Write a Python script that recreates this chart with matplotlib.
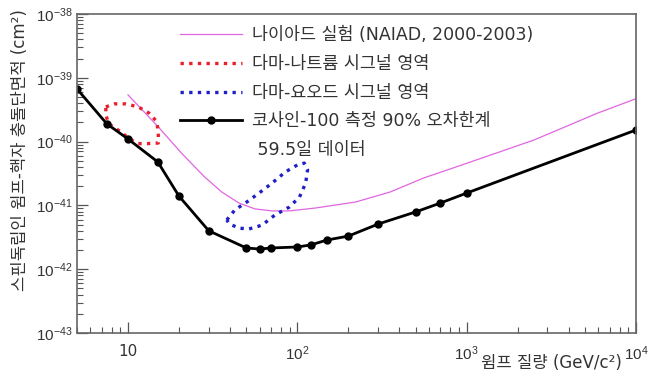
import numpy as np
import matplotlib.pyplot as plt
from matplotlib.ticker import LogLocator, FixedLocator, FuncFormatter, NullFormatter
from matplotlib.lines import Line2D

plt.rcParams['font.family'] = ['DejaVu Sans', 'Noto Sans CJK KR']
plt.rcParams['mathtext.fontset'] = 'custom'
plt.rcParams['mathtext.rm'] = 'Liberation Sans'
plt.rcParams['mathtext.it'] = 'Liberation Sans:italic'

# 코사인-100 90% 상한 (59.5일)
cosine_mass = [5, 7.5, 10, 15, 20, 30, 50, 60, 70, 100, 120, 150, 200, 300, 500, 700, 1000, 10000]
cosine_xs = [6.7e-40, 1.9e-40, 1.1e-40, 4.8e-41, 1.4e-41, 4.0e-42, 2.15e-42, 2.07e-42, 2.15e-42,
             2.23e-42, 2.4e-42, 2.87e-42, 3.3e-42, 5.1e-42, 7.9e-42, 1.09e-41, 1.56e-41, 1.52e-40]

# NAIAD (2000-2003)
naiad_mass = [10, 15.1, 20.7, 28.3, 35.8, 45.2, 56.3, 71, 89.6, 128, 221, 353, 555, 760, 960, 2500, 5940, 10000]
naiad_xs = [5.4e-40, 1.7e-40, 6.6e-41, 2.8e-41, 1.62e-41, 1.09e-41, 8.8e-42, 8.2e-42, 8.2e-42,
            9.1e-42, 1.13e-41, 1.62e-41, 2.68e-41, 3.56e-41, 4.4e-41, 1.06e-40, 2.8e-40, 4.7e-40]

# DAMA 나트륨 영역 윤곽
dama_na_mass = [7.4, 8.3, 9.7, 11.5, 13.3, 14.7, 15.1, 15.1, 13.1, 11.5, 10.4, 8.8, 7.7, 7.4, 7.4]
dama_na_xs = [3.5e-40, 3.9e-40, 3.9e-40, 3.5e-40, 2.8e-40, 2.1e-40, 1.5e-40, 9.5e-41, 9.3e-41,
              9.3e-41, 1.07e-40, 1.5e-40, 1.9e-40, 2.6e-40, 3.5e-40]

# DAMA 요오드 영역 윤곽
dama_i_mass = [38.3, 42.8, 50.3, 59.4, 71.0, 84.9, 100, 110, 115, 112, 103, 89.6, 73.9, 61.9, 51.8, 45.2, 39.9, 38.3]
dama_i_xs = [5.9e-42, 8.5e-42, 1.13e-41, 1.56e-41, 2.24e-41, 3.34e-41, 4.3e-41, 4.6e-41, 3.6e-41,
             2.24e-41, 1.35e-41, 9.4e-42, 7.1e-42, 4.9e-42, 4.27e-42, 4.4e-42, 5.1e-42, 5.9e-42]

fig = plt.figure(figsize=(6.51, 3.73), dpi=100)
ax = fig.add_axes([77 / 651, 1 - 333 / 373, 559 / 651, 319 / 373])

ax.plot(naiad_mass, naiad_xs, color='#e066e0', lw=0.9, label='나이아드 실험 (NAIAD, 2000-2003)')
ax.plot(dama_na_mass, dama_na_xs, color='#e8202a', lw=2.4, linestyle=(0, (1, 1.6)),
        label='다마-나트륨 시그널 영역')
ax.plot(dama_i_mass, dama_i_xs, color='#2020c8', lw=2.4, linestyle=(0, (1, 1.6)),
        label='다마-요오드 시그널 영역')
ax.plot(cosine_mass, cosine_xs, color='black', lw=2, marker='o', ms=5,
        label='코사인-100 측정 90% 오차한계')

ax.set_xscale('log')
ax.set_yscale('log')
ax.set_xlim(5, 1e4)
ax.set_ylim(1e-43, 1e-38)

def xfmt(v, pos):
    e = int(round(np.log10(v)))
    return '10' if e == 1 else r'$10^{%d}$' % e

ax.xaxis.set_major_locator(FixedLocator([10, 100, 1000, 10000]))
ax.xaxis.set_major_formatter(FuncFormatter(xfmt))
ax.xaxis.set_minor_locator(LogLocator(base=10, subs=np.arange(2, 10), numticks=20))
ax.xaxis.set_minor_formatter(NullFormatter())
ax.yaxis.set_major_locator(FixedLocator([1e-43, 1e-42, 1e-41, 1e-40, 1e-39, 1e-38]))
ax.yaxis.set_major_formatter(FuncFormatter(lambda v, p: r'$10^{%d}$' % int(round(np.log10(v)))))
ax.yaxis.set_minor_locator(LogLocator(base=10, subs=np.arange(2, 10), numticks=20))
ax.yaxis.set_minor_formatter(NullFormatter())

ax.tick_params(which='both', direction='in', colors='#555555', labelcolor='#333333')
ax.tick_params(which='major', length=8, width=0.9, labelsize=11)
ax.tick_params(which='minor', length=4.5, width=0.8)
ax.tick_params(axis='x', which='major', pad=8)
ax.tick_params(axis='y', which='major', pad=3)
for s in ax.spines.values():
    s.set_color('#666666')
    s.set_linewidth(1.2)

# 두 번째 줄 설명은 핸들 없는 항목으로
handles, labels = ax.get_legend_handles_labels()
handles.append(Line2D([], [], linestyle='none'))
labels.append(' 59.5일 데이터')
leg = ax.legend(handles, labels, loc='upper left', bbox_to_anchor=(0.184, 0.962), frameon=False,
                fontsize=12.5, handlelength=3.6, handletextpad=0.57, labelspacing=0.62,
                borderpad=0, borderaxespad=0)
for t in leg.get_texts():
    t.set_color('#333333')

fig.text(20 / 651, 1 - 9 / 373, '스핀독립인 윔프-핵자 충돌단면적 (cm²)', rotation=90,
         ha='center', va='top', fontsize=12, color='#333333')
fig.text(622 / 651, 1 - 363 / 373, '윔프 질량 (GeV/c²)', ha='right', va='center',
         fontsize=12, color='#333333')

fig.savefig('out.png', dpi=100)
